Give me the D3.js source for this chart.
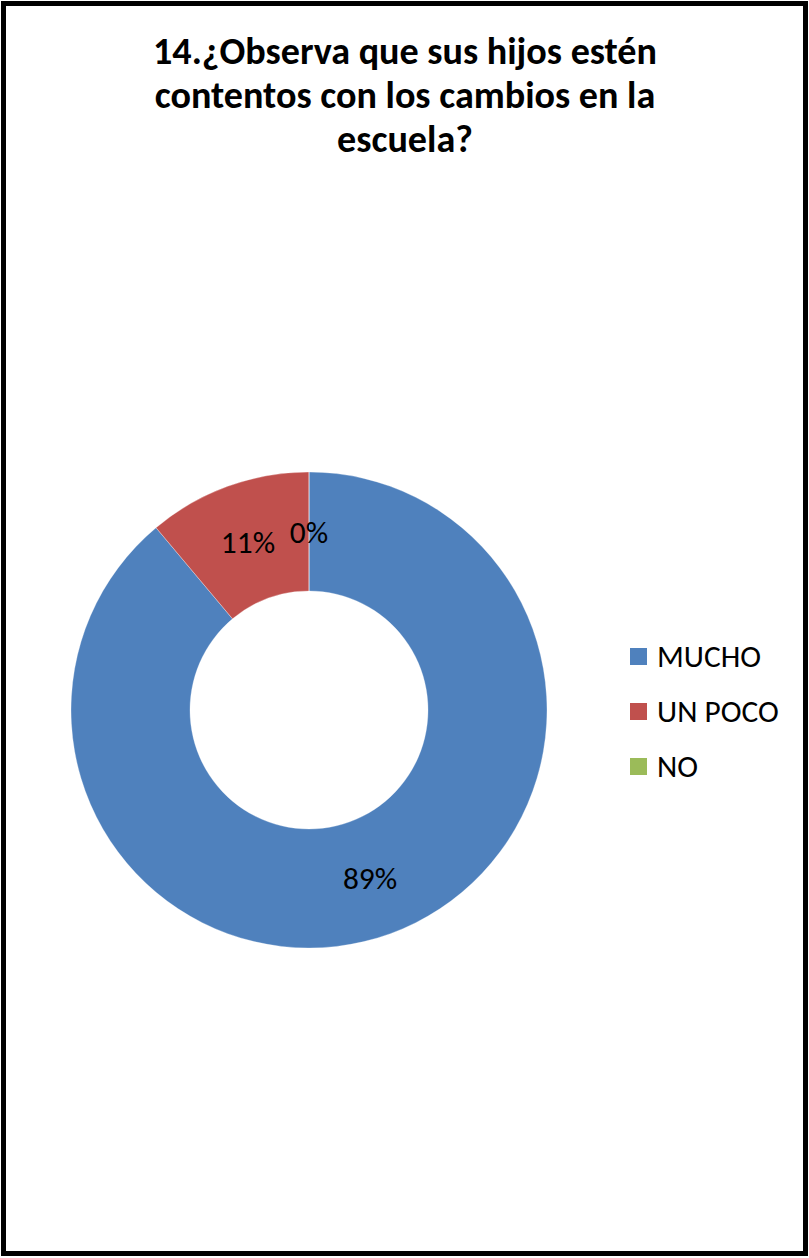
<!DOCTYPE html>
<html>
<head>
<meta charset="utf-8">
<script src="https://cdn.jsdelivr.net/npm/d3@7"></script>
<style>
  html, body { margin: 0; padding: 0; background: #fff; }
  svg { display: block; }
</style>
</head>
<body>
<svg id="chart" width="809" height="1258"></svg>
<script>
// Daten
const categories = ['MUCHO', 'UN POCO', 'NO'];
const counts = [8, 1, 0];
const percentLabels = ['89%', '11%', '0%'];
const colors = ['#4F81BD', '#C0504D', '#9BBB59'];
const titleLines = ['14.¿Observa que sus hijos estén', 'contentos con los cambios en la', 'escuela?'];

const FONT = 'Carlito, Lato, "Open Sans", sans-serif';

const svg = d3.select('#chart');

// Rahmen
svg.append('rect')
    .attr('x', 3.5).attr('y', 3.5)
    .attr('width', 802).attr('height', 1250)
    .attr('fill', '#fff')
    .attr('stroke', '#000')
    .attr('stroke-width', 5);

// Text auf Zielbreite bringen (Calibri-Ersatz hat andere Breiten)
function fitTo(sel, target) {
    sel.attr('textLength', target).attr('lengthAdjust', 'spacingAndGlyphs');
}

// Titel
const title = svg.append('g');
const titleNodes = titleLines.map((t, i) => title.append('text')
    .attr('x', 405)
    .attr('y', 64 + i * 44)
    .attr('text-anchor', 'middle')
    .style('font-family', FONT)
    .style('font-size', '39px')
    .style('font-weight', 'bold')
    .text(t));
const titleW = titleNodes[0].node().getComputedTextLength();
const titleK = 504 / titleW;
titleNodes.forEach(n => fitTo(n, n.node().getComputedTextLength() * titleK));

// Donut
const cx = 309, cy = 710, outerR = 238, innerR = 119;
const g = svg.append('g').attr('transform', `translate(${cx},${cy})`);

const pie = d3.pie().sort(null).value(d => d.v).startAngle(0).endAngle(2 * Math.PI);
const data = categories.map((c, i) => ({ name: c, v: counts[i], label: percentLabels[i], color: colors[i] }));
const arcs = pie(data);

const arc = d3.arc().innerRadius(innerR).outerRadius(outerR);
const labelArc = d3.arc().innerRadius((innerR + outerR) / 2).outerRadius((innerR + outerR) / 2);

g.selectAll('path.slice')
    .data(arcs)
    .enter()
    .append('path')
    .attr('class', 'slice')
    .attr('d', arc)
    .attr('fill', d => d.data.color)
    .attr('stroke', '#fff')
    .attr('stroke-width', 0.3);

// Prozentwerte
const labelNodes = g.selectAll('text.pct')
    .data(arcs)
    .enter()
    .append('text')
    .attr('class', 'pct')
    .attr('x', d => labelArc.centroid(d)[0])
    .attr('y', d => labelArc.centroid(d)[1] + 11)
    .attr('text-anchor', 'middle')
    .style('font-family', FONT)
    .style('font-size', '31px')
    .style('fill', '#000')
    .text(d => d.data.label);

// Legende
const legend = svg.append('g').attr('transform', 'translate(630,648)');
const items = legend.selectAll('g.item')
    .data(data)
    .enter()
    .append('g')
    .attr('class', 'item')
    .attr('transform', (d, i) => `translate(0,${i * 55})`);

items.append('rect')
    .attr('width', 17).attr('height', 17)
    .attr('fill', d => d.color);

const legendText = items.append('text')
    .attr('x', 27)
    .attr('y', 19)
    .style('font-family', FONT)
    .style('font-size', '31px')
    .style('fill', '#000')
    .text(d => d.name);

// Breite an Calibri angleichen: "MUCHO" ~104px
const muchoW = legendText.nodes()[0].getComputedTextLength();
const k = 104 / muchoW;
legendText.each(function() { fitTo(d3.select(this), this.getComputedTextLength() * k); });
labelNodes.each(function() { fitTo(d3.select(this), this.getComputedTextLength() * k); });
</script>
</body>
</html>
